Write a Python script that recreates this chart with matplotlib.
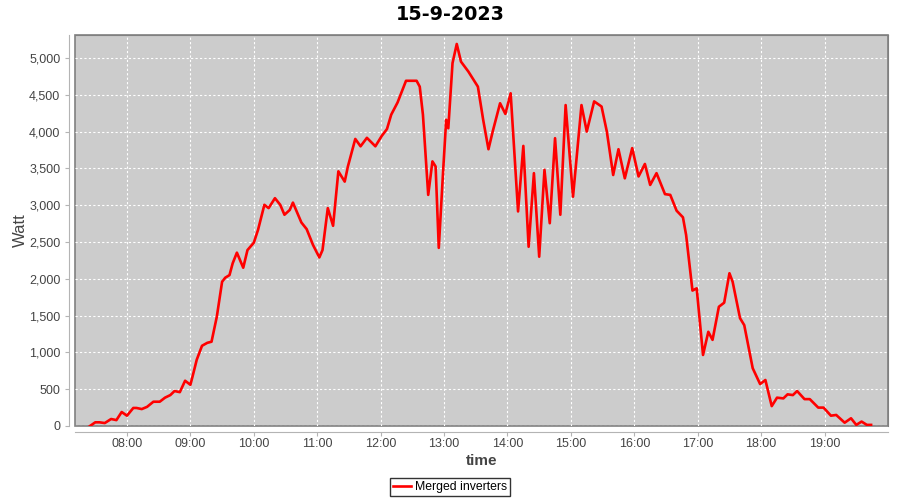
import pandas as pd
import matplotlib
matplotlib.use("Agg")
import matplotlib.pyplot as plt
import matplotlib.dates as mdates
from matplotlib.ticker import FuncFormatter

plt.rcParams["font.family"] = ["Liberation Sans", "DejaVu Sans"]

# Power readings (time of day, watt)
times = ["07:25", "07:30", "07:34", "07:39", "07:45", "07:50", "07:55", "08:00",
         "08:06", "08:09", "08:14", "08:19", "08:25", "08:31", "08:36", "08:41",
         "08:45", "08:50", "08:55", "09:00", "09:02", "09:06", "09:11", "09:16",
         "09:20", "09:25", "09:30", "09:33", "09:37", "09:40", "09:44", "09:50",
         "09:54", "10:00", "10:04", "10:10", "10:14", "10:20", "10:25", "10:29",
         "10:34", "10:37", "10:45", "10:50", "10:56", "11:02", "11:05", "11:10",
         "11:15", "11:20", "11:26", "11:29", "11:36", "11:41", "11:47", "11:55",
         "12:01", "12:06", "12:10", "12:16", "12:24", "12:34", "12:37", "12:40",
         "12:45", "12:49", "12:52", "12:55", "12:59", "13:02", "13:04", "13:08",
         "13:12", "13:16", "13:23", "13:32", "13:37", "13:42", "13:46", "13:53",
         "13:58", "14:03", "14:10", "14:15", "14:20", "14:25", "14:30", "14:35",
         "14:40", "14:45", "14:50", "14:55", "15:02", "15:10", "15:15", "15:22",
         "15:29", "15:34", "15:40", "15:45", "15:51", "15:58", "16:04", "16:10",
         "16:15", "16:21", "16:29", "16:34", "16:40", "16:46", "16:49", "16:55",
         "16:59", "17:05", "17:10", "17:14", "17:20", "17:25", "17:30", "17:33",
         "17:40", "17:44", "17:52", "17:59", "18:04", "18:10", "18:15", "18:21",
         "18:25", "18:30", "18:34", "18:41", "18:46", "18:54", "18:59", "19:06",
         "19:11", "19:19", "19:25", "19:30", "19:35", "19:40", "19:44"]
watt = [0, 50, 50, 40, 95, 80, 190, 140,
        245, 245, 230, 260, 330, 330, 385, 420,
        475, 460, 615, 560, 670, 900, 1090, 1130,
        1145, 1485, 1960, 2015, 2050, 2210, 2355, 2150,
        2390, 2490, 2665, 3005, 2960, 3095, 3005, 2870,
        2935, 3035, 2765, 2675, 2460, 2290, 2390, 2960,
        2720, 3460, 3320, 3525, 3900, 3800, 3915, 3800,
        3940, 4035, 4230, 4395, 4690, 4690, 4610, 4230,
        3140, 3595, 3525, 2420, 3435, 4160, 4045, 4930,
        5190, 4950, 4815, 4610, 4160, 3760, 4000, 4385,
        4240, 4520, 2915, 3805, 2435, 3435, 2300, 3480,
        2755, 3910, 2870, 4360, 3115, 4360, 4000, 4410,
        4340, 4000, 3410, 3760, 3365, 3775, 3390, 3560,
        3275, 3435, 3150, 3140, 2925, 2835, 2595, 1840,
        1870, 965, 1280, 1170, 1620, 1675, 2075, 1960,
        1465, 1370, 785, 570, 625, 270, 385, 375,
        430, 420, 475, 365, 365, 250, 250, 140,
        150, 45, 105, 15, 60, 15, 15]

t = pd.to_datetime(["2023-09-15 " + s for s in times])

fig = plt.figure(figsize=(9, 5), dpi=100)
ax = fig.add_axes([75 / 900, 1 - 426 / 500, 813 / 900, 391 / 500])
ax.set_facecolor("#cccccc")

ax.plot(t, watt, color="#ff0000", lw=1.9, label="Merged inverters")

ax.set_xlim(pd.Timestamp("2023-09-15 07:10:50"), pd.Timestamp("2023-09-15 20:00"))
ax.set_ylim(0, 5312)
ax.set_yticks(range(0, 5001, 500))
ax.yaxis.set_major_formatter(FuncFormatter(lambda v, p: f"{int(v):,}"))
ax.xaxis.set_major_locator(mdates.HourLocator(byhour=range(8, 20)))
ax.xaxis.set_major_formatter(mdates.DateFormatter("%H:%M"))

ax.grid(True, color="white", linestyle=(0, (2, 2)), lw=0.8)
ax.set_axisbelow(True)

# plot border plus the detached axis lines
for s in ["top", "right"]:
    ax.spines[s].set_color("#808080")
for s in ["left", "bottom"]:
    ax.spines[s].set_position(("outward", 4))
    ax.spines[s].set_color("#b4b4b4")
ax.patch.set_edgecolor("#808080")
ax.patch.set_linewidth(1.2)

ax.tick_params(colors="#b4b4b4", labelcolor="#444444", labelsize=9, length=3)
ax.tick_params(axis="x", pad=1.5)

fig.text(0.5, 1 - 14 / 500, "15-9-2023", ha="center", va="center",
         fontsize=13.8, fontweight="bold", family="DejaVu Sans")
ax.set_ylabel("Watt", fontsize=12, color="#444444", labelpad=1)
ax.set_xlabel("time", fontsize=11, fontweight="bold", color="#444444", labelpad=3)

leg = fig.legend(loc="center", bbox_to_anchor=(0.5, 1 - 487 / 500), fontsize=8.8,
                 frameon=True, fancybox=False, handlelength=1.5,
                 borderpad=0.25, handletextpad=0.3)
leg.get_frame().set_edgecolor("black")
leg.get_frame().set_linewidth(1)

fig.savefig("out.png")
